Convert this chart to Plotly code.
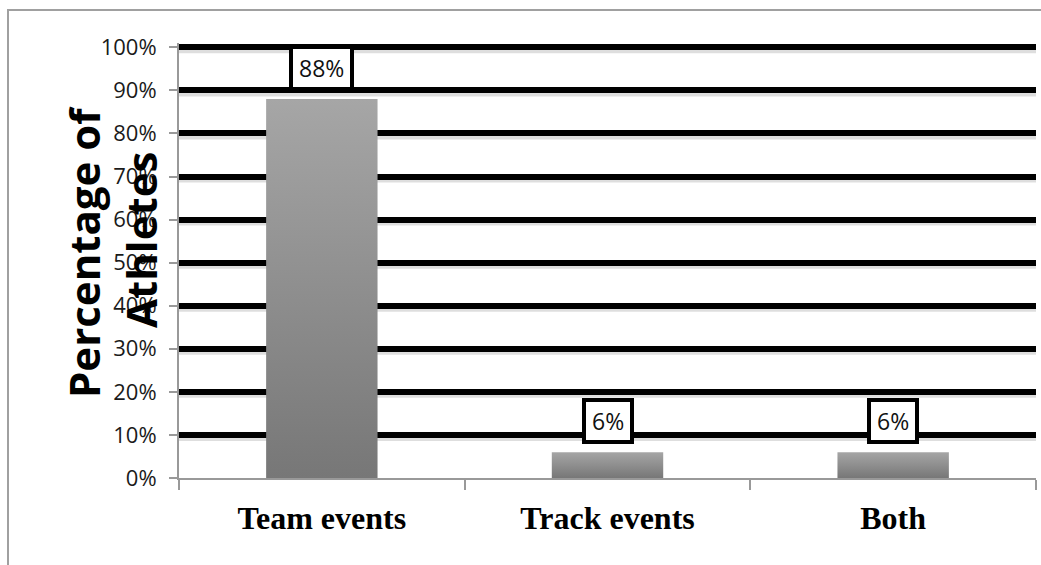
import plotly.graph_objects as go

categories = ["Team events", "Track events", "Both"]
values = [0.88, 0.06, 0.06]
labels = ["88%", "6%", "6%"]
y_ticks = [i / 10 for i in range(11)]
y_title_lines = ["Percentage of", "Athletes"]

W, H = 1041, 565
Y_MAX = 1.01
L, R, B = 179, 5, 87
T = round(H - B - 431 * Y_MAX)
PW = W - L - R
PH = H - T - B
BAR_W = 0.39

fig = go.Figure()
for i, (c, v) in enumerate(zip(categories, values)):
    fig.add_trace(go.Scatter(
        x=[i - BAR_W / 2, i + BAR_W / 2, i + BAR_W / 2, i - BAR_W / 2, i - BAR_W / 2],
        y=[0, 0, v, v, 0],
        mode="lines",
        line=dict(width=0, color="rgba(0,0,0,0)"),
        fill="toself",
        fillgradient=dict(type="vertical", colorscale=[[0, "#777777"], [1, "#a6a6a6"]]),
        name=c,
        hoverinfo="skip",
        showlegend=False,
    ))

# value label boxes
for i, (v, lab) in enumerate(zip(values, labels)):
    fig.add_annotation(
        x=i, y=v, xref="x", yref="y", text=lab, showarrow=False,
        yshift=31, yanchor="middle",
        font=dict(family="Open Sans", size=23, color="#111111"),
        bgcolor="white", bordercolor="black", borderwidth=4, borderpad=6,
        height=26,
    )

# gridline shadows
for v in y_ticks[1:]:
    fig.add_shape(
        type="line", xref="paper", x0=0, x1=1, yref="y", ysizemode="pixel",
        yanchor=v, y0=-4, y1=-4, line=dict(color="rgba(0,0,0,0.13)", width=4),
        layer="between",
    )

# y-axis title (two overlapping rotated lines)
title_pos = [(83, 252), (140, 240)]
for text, (px, py) in zip(y_title_lines, title_pos):
    fig.add_annotation(
        x=(px - L) / PW, y=(H - B - py) / PH, xref="paper", yref="paper",
        text=text, showarrow=False, textangle=-90,
        xanchor="center", yanchor="middle",
        font=dict(family="Open Sans", size=42, color="black", weight="bold"),
    )

# outer chart border
fig.add_shape(
    type="rect", xref="paper", yref="paper",
    x0=(8 - L) / PW, x1=(W + 30 - L) / PW,
    y0=(H - B - (H + 30)) / PH, y1=(H - B - 10) / PH,
    line=dict(color="#a0a0a0", width=2), fillcolor="rgba(0,0,0,0)", layer="below",
)

fig.update_layout(
    width=W, height=H,
    margin=dict(l=L, r=R, t=T, b=B),
    paper_bgcolor="white", plot_bgcolor="white",
    showlegend=False,
    xaxis=dict(
        range=[-0.5, 2.5],
        tickmode="array", tickvals=list(range(len(categories))), ticktext=categories,
        ticks="", showgrid=False, zeroline=False,
        showline=True, linecolor="#999999", linewidth=2,
        tickfont=dict(family="Liberation Serif", size=32, color="black", weight="bold"),
        ticklabelstandoff=11,
        minor=dict(tick0=0.5, dtick=1, ticks="outside", ticklen=10, tickcolor="#999999",
                   tickwidth=2, showgrid=False),
        fixedrange=True,
    ),
    yaxis=dict(
        range=[0, Y_MAX],
        tickmode="array", tickvals=y_ticks, tickformat=".0%",
        ticks="outside", ticklen=8, tickcolor="#999999", tickwidth=2,
        showgrid=True, gridcolor="black", gridwidth=6,
        zeroline=False, showline=True, linecolor="#999999", linewidth=2,
        tickfont=dict(family="Open Sans", size=22, color="#1a1a1a"),
        ticklabelstandoff=8,
        fixedrange=True,
    ),
)

fig.write_html("out.html")
